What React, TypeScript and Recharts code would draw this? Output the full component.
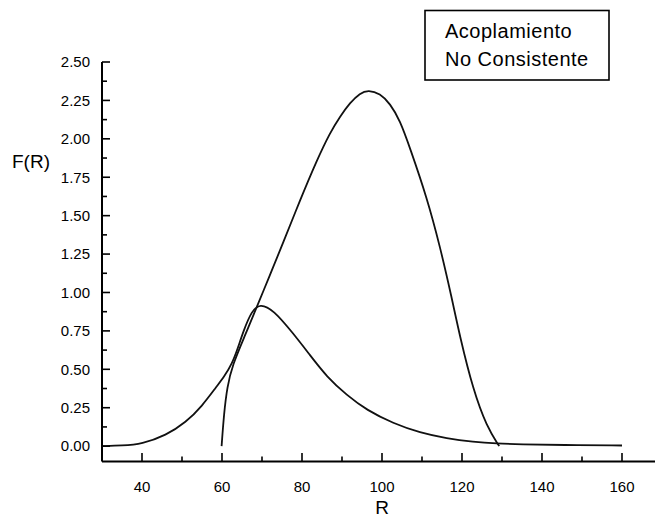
import React from 'react';
import { LineChart, Line, XAxis, YAxis } from 'recharts';

// Curve 1 (lognormal-like distribution)
const curve1R = [30, 35, 40, 46, 51, 55, 58.7, 60.5, 62.5, 64, 65.3, 67.4, 69.5, 72.8, 77.8, 82, 86.2, 91.2, 96.2, 102.8, 109.5, 116.2, 122.8, 128.7, 134.5, 145, 160];
const curve1F = [0, 0.003, 0.014, 0.07, 0.155, 0.26, 0.39, 0.45, 0.535, 0.64, 0.745, 0.88, 0.928, 0.888, 0.734, 0.592, 0.451, 0.332, 0.234, 0.148, 0.087, 0.05, 0.028, 0.017, 0.012, 0.007, 0.004];

// Curve 2 (broad peak)
const curve2R = [59.9, 60.5, 61.3, 62.6, 65.75, 68.7, 72, 75, 79.5, 83.7, 87, 89.5, 92, 94.5, 96.6, 99.5, 102, 104.5, 107, 111.2, 114.5, 117.4, 119.5, 122.8, 126.2, 129.3];
const curve2F = [0, 0.213, 0.386, 0.527, 0.72, 0.905, 1.115, 1.305, 1.6, 1.86, 2.04, 2.145, 2.235, 2.298, 2.318, 2.295, 2.23, 2.12, 1.94, 1.62, 1.3, 0.97, 0.71, 0.365, 0.126, 0];

const xMajorTicks = [40, 60, 80, 100, 120, 140, 160];
const xMinorTicks = [50, 70, 90, 110, 130, 150];
const yMajorTicks = [0, 0.25, 0.5, 0.75, 1, 1.25, 1.5, 1.75, 2, 2.25, 2.5];
const yTickLabels = ['0.00', '0.25', '0.50', '0.75', '1.00', '1.25', '1.50', '1.75', '2.00', '2.25', '2.50'];
const yMinorTicks = [0.125, 0.375, 0.625, 0.875, 1.125, 1.375, 1.625, 1.875, 2.125, 2.375];

const legendLines = ['Acoplamiento', 'No Consistente'];
const xTitle = 'R';
const yTitle = 'F(R)';

const curve1 = curve1R.map((r, i) => ({ r, f: curve1F[i] }));
const curve2 = curve2R.map((r, i) => ({ r, f: curve2F[i] }));

const FONT = '"Liberation Sans", Arial, Helvetica, sans-serif';

const XTick = (props: any) => {
  const { x, y, payload } = props;
  const v = payload.value;
  const major = xMajorTicks.indexOf(v) >= 0;
  return (
    <g>
      <line x1={x} y1={y} x2={x} y2={y - (major ? 8.5 : 5)} stroke="#000" strokeWidth={1.6} />
      {major && (
        <text x={x} y={y + 30.5} textAnchor="middle" fontSize={15} fontFamily={FONT} fill="#000">
          {String(v)}
        </text>
      )}
    </g>
  );
};

const YTick = (props: any) => {
  const { x, y, payload } = props;
  const v = payload.value;
  const idx = yMajorTicks.findIndex((t) => Math.abs(t - v) < 1e-9);
  const major = idx >= 0;
  return (
    <g>
      <line x1={x} y1={y} x2={x + (major ? 8 : 5)} y2={y} stroke="#000" strokeWidth={1.6} />
      {major && (
        <text x={x - 12} y={y + 5.3} textAnchor="end" fontSize={15} fontFamily={FONT} fill="#000">
          {yTickLabels[idx]}
        </text>
      )}
    </g>
  );
};

export default function App() {
  return (
    <div style={{ position: 'absolute', left: 0, top: 0, width: 655, height: 517, background: '#fff' }}>
      <LineChart width={655} height={517} margin={{ top: 62, right: 0, bottom: 0, left: 0 }}>
        <XAxis
          type="number"
          dataKey="r"
          domain={[30, 168.25]}
          allowDataOverflow
          ticks={[...xMajorTicks, ...xMinorTicks].sort((a, b) => a - b)}
          interval={0}
          tickSize={0}
          tickMargin={0}
          tickLine={false}
          tick={<XTick />}
          height={55.5}
          axisLine={{ stroke: '#000', strokeWidth: 2 }}
          label={{
            content: (p: any) => {
              const vb = p.viewBox || { x: 102, y: 461.5, width: 553, height: 55.5 };
              return (
                <text x={vb.x + (100 - 30) * (vb.width / 138.25)} y={vb.y + 52} textAnchor="middle" fontSize={19} fontFamily={FONT} fill="#000">
                  {xTitle}
                </text>
              );
            },
          }}
        />
        <YAxis
          type="number"
          domain={[-0.1, 2.5]}
          allowDataOverflow
          ticks={[...yMajorTicks, ...yMinorTicks].sort((a, b) => a - b)}
          interval={0}
          tickSize={0}
          tickMargin={0}
          tickLine={false}
          tick={<YTick />}
          width={102}
          axisLine={{ stroke: '#000', strokeWidth: 2 }}
          label={{
            content: (p: any) => {
              const vb = p.viewBox || { x: 0, y: 62, width: 102, height: 399.5 };
              return (
                <text x={vb.x + 12} y={vb.y + 106} textAnchor="start" fontSize={19} fontFamily={FONT} fill="#000">
                  {yTitle}
                </text>
              );
            },
          }}
        />
        <Line data={curve1} dataKey="f" type="basis" dot={false} activeDot={false} stroke="#111" strokeWidth={1.8} isAnimationActive={false} />
        <Line data={curve2} dataKey="f" type="basis" dot={false} activeDot={false} stroke="#111" strokeWidth={1.8} isAnimationActive={false} />
      </LineChart>
      <svg width={655} height={517} style={{ position: 'absolute', left: 0, top: 0, pointerEvents: 'none' }}>
        <rect x={425} y={10.5} width={184} height={69.5} fill="#fff" stroke="#000" strokeWidth={1.6} />
        {legendLines.map((t, i) => (
          <text key={t} x={445} y={37.7 + i * 28} fontSize={20} letterSpacing={0.5} fontFamily={FONT} fill="#000">
            {t}
          </text>
        ))}
      </svg>
    </div>
  );
}
